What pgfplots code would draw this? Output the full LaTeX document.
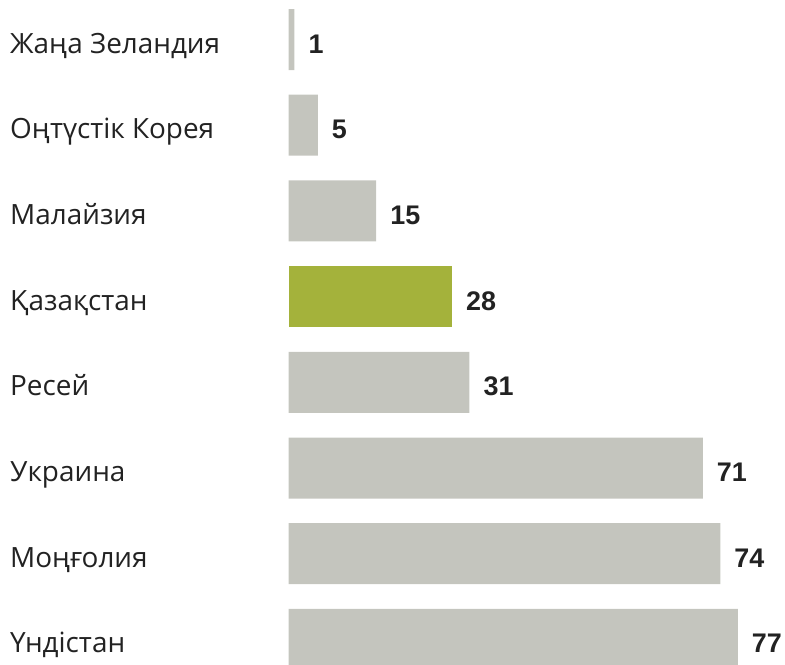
\documentclass[border=0pt]{standalone}
\usepackage{pgfplots}
\pgfplotsset{compat=1.18}
\usepackage{fontspec}
\setmainfont{Open Sans}
\newfontfamily\valfont{Liberation Sans}
\definecolor{bargray}{HTML}{C4C5BE}
\definecolor{bargreen}{HTML}{A4B23B}
\definecolor{txt}{HTML}{222222}
\begin{document}
\begin{tikzpicture}
\begin{axis}[
  name=ax,
  scale only axis,
  width=496.4bp, height=664bp,
  xmin=0, xmax=85.1,
  ymin=-0.461, ymax=7.287,
  y dir=reverse,
  xbar, bar width=61bp,
  axis line style={draw=none},
  xtick=\empty,
  ytick={0,...,7},
  yticklabels={Жаңа Зеландия, Оңтүстік Корея, Малайзия, Қазақстан, Ресей, Украина, Моңғолия, Үндістан},
  major tick length=0pt,
  /pgf/number format/assume math mode=true,
  yticklabel style={anchor=base west, inner sep=0pt, xshift=-278.6bp, yshift=-13.5bp, font=\fontsize{28}{32}\selectfont, text=txt},
  nodes near coords={\valfont\bfseries\fontsize{27}{30}\selectfont\pgfmathprintnumber{\pgfplotspointmeta}},
  every node near coord/.append style={anchor=base west, inner sep=0pt, xshift=14bp, yshift=-13.5bp, text=txt},
  clip=true,
]
\addplot[fill=bargray, draw=none, bar shift=0pt] coordinates {
(1,0) (5,1) (15,2) (31,4) (71,5) (74,6) (77,7)};
\addplot[fill=bargreen, draw=none, bar shift=0pt] coordinates {
(28,3)};
\end{axis}
\pgfresetboundingbox
\path[use as bounding box] ([xshift=-288.6bp]ax.south west) rectangle (ax.north east);
\end{tikzpicture}
\end{document}
